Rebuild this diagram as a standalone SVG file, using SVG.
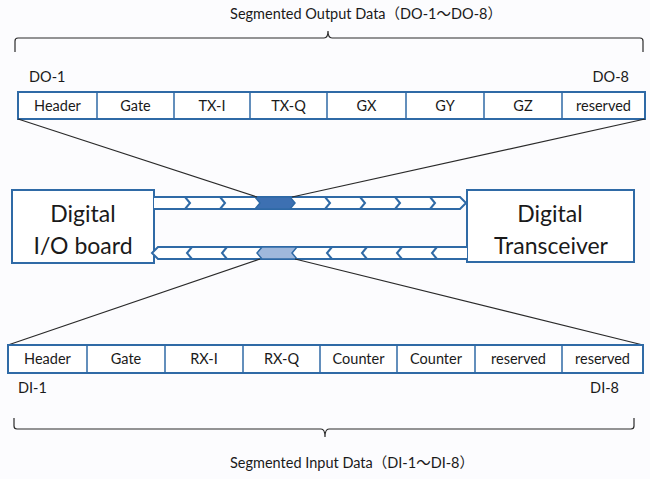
<svg xmlns="http://www.w3.org/2000/svg" width="650" height="479" viewBox="0 0 650 479">
  <style>
    .bg { fill: #fcfcfe; }
    .cell { fill: #ffffff; stroke: #2f6aa6; stroke-width: 2; }
    .div { stroke: #2f6aa6; stroke-width: 1.5; }
    .node { fill: #ffffff; stroke: #2f6aa6; stroke-width: 2; }
    .pipe { fill: #ffffff; stroke: #2f6aa6; stroke-width: 2; stroke-linejoin: miter; }
    .chev { fill: none; stroke: #2f6aa6; stroke-width: 2; }
    .link { fill: none; stroke: #2a2a2a; stroke-width: 1.2; }
    .brace { fill: none; stroke: #2a2a2a; stroke-width: 1.2; }
    .t { font-family: Lato, "Noto Sans", "Noto Sans CJK JP", sans-serif; fill: #1a1a1a; }
    .c { font-size: 14.5px; text-anchor: middle; }
    .lbl { font-size: 14.5px; }
    .big { font-size: 23px; text-anchor: middle; }
    .cap { font-size: 14.5px; text-anchor: middle; }
  </style>
  <defs>
    <!-- right-pointing chevron notch -->
    <path id="chevR" d="M0,0 L5,6 L0,12" />
    <!-- left-pointing chevron notch -->
    <path id="chevL" d="M5,0 L0,6 L5,12" />
  </defs>

  <rect class="bg" x="0" y="0" width="650" height="479" />

  <!-- output data brace and caption -->
  <g id="output-caption">
    <text class="t cap" x="366" y="19">Segmented Output Data（DO-1～DO-8）</text>
    <path class="brace" d="M15,52 L15,41 Q15,38 18,38 L324,38 Q328,38 328,31 Q328,38 332,38 L640,38 Q643,38 643,41 L643,52" />
  </g>

  <!-- output segment row -->
  <g id="output-row">
    <text class="t lbl" x="29" y="82">DO-1</text>
    <text class="t lbl" x="629" y="82" text-anchor="end">DO-8</text>
    <rect class="cell" x="18" y="92" width="627" height="27" />
    <line class="div" x1="97" y1="92" x2="97" y2="119" />
    <line class="div" x1="174" y1="92" x2="174" y2="119" />
    <line class="div" x1="250" y1="92" x2="250" y2="119" />
    <line class="div" x1="327" y1="92" x2="327" y2="119" />
    <line class="div" x1="406" y1="92" x2="406" y2="119" />
    <line class="div" x1="484" y1="92" x2="484" y2="119" />
    <line class="div" x1="562" y1="92" x2="562" y2="119" />
    <text class="t c" x="57.5" y="111">Header</text>
    <text class="t c" x="135.5" y="111">Gate</text>
    <text class="t c" x="212" y="111">TX-I</text>
    <text class="t c" x="288.5" y="111">TX-Q</text>
    <text class="t c" x="366.5" y="111">GX</text>
    <text class="t c" x="445" y="111">GY</text>
    <text class="t c" x="523" y="111">GZ</text>
    <text class="t c" x="603.5" y="111">reserved</text>
  </g>

  <!-- endpoints -->
  <g id="io-board">
    <rect class="node" x="12" y="190" width="142" height="73" />
    <text class="t big" x="83" y="222">Digital</text>
    <text class="t big" x="83" y="254">I/O board</text>
  </g>
  <g id="transceiver">
    <rect class="node" x="467" y="190" width="167" height="72" />
    <text class="t big" x="550" y="222">Digital</text>
    <text class="t big" x="551" y="254">Transceiver</text>
  </g>

  <!-- data streams between the boards -->
  <g id="connectors">
    <!-- outbound stream (to transceiver) -->
    <path class="pipe" d="M154,197 L460,197 L466,203 L460,209 L154,209" />
    <path d="M255,197 L290,197 L295,203 L290,209 L255,209 L260,203 Z" fill="#3d70b2" stroke="#2f6aa6" stroke-width="1.5" />
    <use href="#chevR" class="chev" x="185" y="197" />
    <use href="#chevR" class="chev" x="220" y="197" />
    <use href="#chevR" class="chev" x="325" y="197" />
    <use href="#chevR" class="chev" x="360" y="197" />
    <use href="#chevR" class="chev" x="395" y="197" />
    <use href="#chevR" class="chev" x="430" y="197" />

    <!-- inbound stream (to I/O board) -->
    <path class="pipe" d="M467,247 L158,247 L152,253 L158,259 L467,259" />
    <path d="M262,247 L297,247 L292,253 L297,259 L262,259 L257,253 Z" fill="#9fb8dc" stroke="#2f6aa6" stroke-width="1.5" />
    <use href="#chevL" class="chev" x="187" y="247" />
    <use href="#chevL" class="chev" x="222" y="247" />
    <use href="#chevL" class="chev" x="327" y="247" />
    <use href="#chevL" class="chev" x="362" y="247" />
    <use href="#chevL" class="chev" x="397" y="247" />
    <use href="#chevL" class="chev" x="432" y="247" />

    <!-- expansion lines to the segment rows -->
    <line class="link" x1="18" y1="119" x2="257" y2="197" />
    <line class="link" x1="645" y1="119" x2="292" y2="197" />
    <line class="link" x1="260" y1="259" x2="8" y2="345" />
    <line class="link" x1="295" y1="259" x2="643" y2="345" />
  </g>

  <!-- input segment row -->
  <g id="input-row">
    <rect class="cell" x="8" y="345" width="635" height="28" />
    <line class="div" x1="87" y1="345" x2="87" y2="373" />
    <line class="div" x1="165" y1="345" x2="165" y2="373" />
    <line class="div" x1="243" y1="345" x2="243" y2="373" />
    <line class="div" x1="320" y1="345" x2="320" y2="373" />
    <line class="div" x1="397" y1="345" x2="397" y2="373" />
    <line class="div" x1="475" y1="345" x2="475" y2="373" />
    <line class="div" x1="562" y1="345" x2="562" y2="373" />
    <text class="t c" x="47.5" y="364">Header</text>
    <text class="t c" x="126" y="364">Gate</text>
    <text class="t c" x="204" y="364">RX-I</text>
    <text class="t c" x="281.5" y="364">RX-Q</text>
    <text class="t c" x="358.5" y="364">Counter</text>
    <text class="t c" x="436" y="364">Counter</text>
    <text class="t c" x="518.5" y="364">reserved</text>
    <text class="t c" x="602.5" y="364">reserved</text>
    <text class="t lbl" x="18" y="393">DI-1</text>
    <text class="t lbl" x="619" y="393" text-anchor="end">DI-8</text>
  </g>

  <!-- input data brace and caption -->
  <g id="input-caption">
    <path class="brace" d="M14,418 L14,426 Q14,429 17,429 L321,429 Q325,429 325,437 Q325,429 329,429 L631,429 Q634,429 634,426 L634,418" />
    <text class="t cap" x="352" y="468">Segmented Input Data（DI-1～DI-8）</text>
  </g>
</svg>
